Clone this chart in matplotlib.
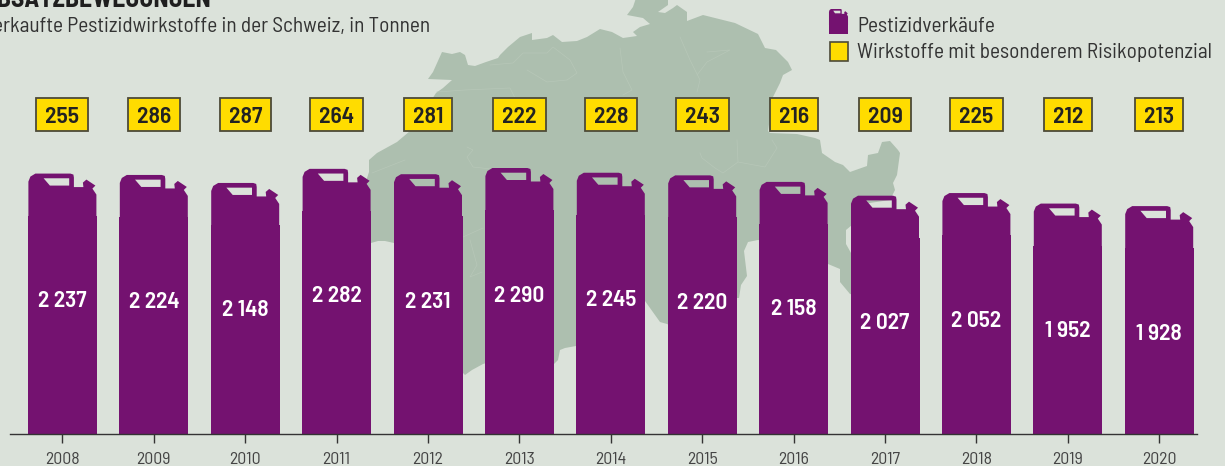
import matplotlib
matplotlib.use("Agg")
import logging
import matplotlib.pyplot as plt
from matplotlib.path import Path
from matplotlib.patches import PathPatch, Polygon, Rectangle

logging.getLogger("matplotlib.font_manager").setLevel(logging.ERROR)

years = [2008, 2009, 2010, 2011, 2012, 2013, 2014, 2015, 2016, 2017, 2018, 2019, 2020]
sales = [2237, 2224, 2148, 2282, 2231, 2290, 2245, 2220, 2158, 2027, 2052, 1952, 1928]
risk = [255, 286, 287, 264, 281, 222, 228, 243, 216, 209, 225, 212, 213]
title = "ABSATZBEWEGUNGEN"
subtitle = "Verkaufte Pestizidwirkstoffe in der Schweiz, in Tonnen"
legend_labels = ["Pestizidverkäufe", "Wirkstoffe mit besonderem Risikopotenzial"]

BG = "#dbe2da"
MAP = "#adbfaf"
MAPLINE = "#b7c7b8"
PURPLE = "#741270"
YELLOW = "#ffdc00"
EDGE = "#4d4a38"
INK = "#333333"
FONT = ["Barlow Semi Condensed", "Liberation Sans", "DejaVu Sans"]

W, H = 1225, 466
PX_X0, PX_STEP = 62.4, 91.4      # pixel of the first year, pixels per year
PX_BASE, TONS_PER_PX = 434, 9.5  # the picture's bars are not drawn from a true zero
AXIS_BASE = -237
BOX_PY, BOX_H = 114.5, 33.5

# Silhouette of Switzerland in the background, traced in picture pixels
MAP_OUTLINE = [
    (428, 79), (433, 72), (442, 52), (452, 54), (460, 52), (465, 55), (468, 65), (475, 66), (486, 62), (498, 58),
    (500, 55), (508, 47), (520, 37), (532, 33), (532, 40), (547, 38), (553, 35), (562, 42), (577, 41), (587, 37),
    (600, 29), (612, 32), (623, 38), (637, 36), (633, 32), (640, 27), (650, 24), (643, 18), (627, 15), (633, 7),
    (636, -2), (668, -2), (668, 5), (658, 12), (665, 13), (673, 8), (677, 5), (687, 12), (687, 21), (703, 15),
    (735, 23), (758, 34), (765, 48), (776, 50), (788, 62), (792, 70), (783, 75), (780, 83), (773, 97), (768, 131),
    (770, 133), (797, 134), (815, 138), (820, 140), (822, 153), (835, 162), (843, 165), (850, 172), (867, 166),
    (868, 155), (878, 153), (882, 142), (890, 141), (898, 150), (900, 153), (897, 175), (893, 183), (895, 190),
    (890, 200), (856, 205), (852, 225), (846, 230), (846, 244), (851, 253), (860, 258), (860, 296), (850, 294),
    (840, 282), (840, 269), (828, 264), (790, 245), (758, 240), (748, 242), (744, 251), (747, 276), (741, 285),
    (739, 298), (737, 298), (700, 340), (667, 324), (660, 322), (655, 315), (650, 308), (645, 301), (620, 320),
    (576, 346), (565, 348), (560, 350), (558, 360), (554, 364), (490, 362), (483, 364), (472, 370), (465, 375),
    (462, 372), (430, 300), (400, 252), (394, 243), (385, 241), (378, 241), (371, 243), (365, 235), (360, 200),
    (369, 172), (369, 160), (377, 153), (397, 142), (410, 131), (425, 110), (436, 93), (443, 88), (452, 80),
]
MAP_BORDERS = [
    [(620, 48), (623, 72), (632, 90), (623, 95)],
    [(680, 37), (690, 60), (700, 80), (697, 92)],
    [(490, 65), (513, 63), (523, 53), (547, 53), (553, 47), (570, 60), (577, 73), (567, 80), (547, 82), (527, 70)],
    [(707, 52), (730, 50), (707, 62), (697, 75)],
    [(437, 92), (465, 90), (510, 88), (515, 98)],
    [(772, 140), (777, 148), (765, 167), (738, 162), (737, 140)],
    [(738, 162), (723, 173), (715, 168), (702, 158), (700, 153)],
    [(372, 173), (405, 160)],
    [(467, 147), (473, 150), (467, 157), (473, 167), (500, 170)],
    [(463, 237), (483, 228)],
    [(470, 240), (477, 265), (470, 277), (482, 272)],
]
# Canister head: offsets in pixels from the bar centre (x) and below its top (y)
HEAD = [(-34, 44), (-34, 8), (-32, 3), (-27, 0), (8, 0), (11, 1), (11.5, 4), (11.5, 13.5), (21, 13.5), (20.5, 9),
        (24, 6), (33, 12), (30, 15), (34, 21), (34, 44), (-34, 44)]
HOLE = [(-18.8, 4.7), (-12.5, 12), (6.8, 12), (6.8, 4.7), (-18.8, 4.7)]
BODY_DROP = 42
LABEL_DROP = 127.5
TEXT_DROP = 2.5

fig = plt.figure(figsize=(W / 100, H / 100), dpi=100, facecolor=BG)

# pixel-space layer: map, legend, title
bg = fig.add_axes([0, 0, 1, 1], facecolor=BG)
bg.set_xlim(0, W)
bg.set_ylim(H, 0)
bg.axis("off")
bg.add_patch(Polygon(MAP_OUTLINE, closed=True, fc=MAP, ec="none"))
for line in MAP_BORDERS:
    xs, ys = zip(*line)
    bg.plot(xs, ys, color=MAPLINE, lw=0.5, solid_joinstyle="round")

bg.text(211, 7, title, ha="right", va="baseline", fontsize=18.5, fontweight="bold", color="#1f1f1f", family=FONT)
bg.text(430, 27, subtitle, ha="right", va="center", fontsize=15.35, color=INK, family=FONT)


def head_path(cx_fn, cy_fn):
    """Canister head, converted through two coordinate functions."""
    verts, codes = [], []
    for shape in (HEAD, HOLE):
        verts += [(cx_fn(a), cy_fn(b)) for a, b in shape]
        codes += [Path.MOVETO] + [Path.LINETO] * (len(shape) - 2) + [Path.CLOSEPOLY]
    return Path(verts, codes)


# legend
bg.add_patch(PathPatch(head_path(lambda a: 838.5 + a * 0.28, lambda b: 9 + b * 0.36), fc=PURPLE, ec="none"))
bg.add_patch(Rectangle((829, 20), 19, 14, fc=PURPLE, ec="none"))
bg.add_patch(Rectangle((829.5, 42), 18, 18.5, fc=YELLOW, ec=EDGE, lw=1.2))
bg.text(857, 26, legend_labels[0], va="center", fontsize=15.35, color=INK, family=FONT)
bg.text(857, 53, legend_labels[1], va="center", fontsize=15.35, color=INK, family=FONT)

# data layer: years on x, tonnes on y
ax = fig.add_axes([0, 0, 1, 1], facecolor="none")
ax.set_xlim(years[0] - PX_X0 / PX_STEP, years[0] + (W - PX_X0) / PX_STEP)
ax.set_ylim(AXIS_BASE - (H - PX_BASE) * TONS_PER_PX, AXIS_BASE + PX_BASE * TONS_PER_PX)
dx = 1 / PX_STEP
box_y = AXIS_BASE + (PX_BASE - BOX_PY) * TONS_PER_PX

ax.bar(years, [v - BODY_DROP * TONS_PER_PX - AXIS_BASE for v in sales], bottom=AXIS_BASE, width=69 * dx,
       color=PURPLE, zorder=2)
renderer = fig.canvas.get_renderer()
for yr, v, r in zip(years, sales, risk):
    path = head_path(lambda a: yr + a * dx, lambda b: v - b * TONS_PER_PX)
    ax.add_patch(PathPatch(path, fc=PURPLE, ec="none", zorder=2))
    ax.text(yr, v - LABEL_DROP * TONS_PER_PX, f"{v // 1000}\u2009{v % 1000:03d}", ha="center", va="center",
            color="white", fontsize=16.8, fontweight=600, family=FONT, zorder=3)
    t = ax.text(yr, box_y - TEXT_DROP * TONS_PER_PX, str(r), ha="center", va="center", fontsize=17, fontweight=600,
                color="#222222", family=FONT, zorder=5)
    box_w = t.get_window_extent(renderer).width + 18
    ax.add_patch(Rectangle((yr - box_w / 2 * dx, box_y - BOX_H / 2 * TONS_PER_PX), box_w * dx,
                           BOX_H * TONS_PER_PX, fc=YELLOW, ec=EDGE, lw=1.3, zorder=4))

for side in ("left", "right", "top"):
    ax.spines[side].set_visible(False)
ax.spines["bottom"].set_position(("data", AXIS_BASE))
ax.spines["bottom"].set_bounds(years[0] + (10 - PX_X0) * dx, years[0] + (1197 - PX_X0) * dx)
ax.spines["bottom"].set_linewidth(1.0)
ax.spines["bottom"].set_color("#333333")
ax.set_yticks([])
ax.set_xticks(years)
ax.tick_params(axis="x", direction="out", length=6.5, width=1, color="#333333", pad=6.5, labelsize=12.8,
               labelcolor="#444444")
for lab in ax.get_xticklabels():
    lab.set_family(FONT)

fig.savefig("out.png", dpi=100, facecolor=BG)
